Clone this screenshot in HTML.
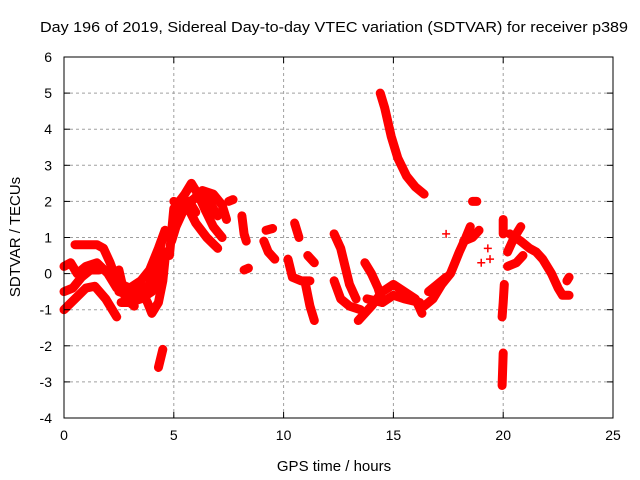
<!DOCTYPE html>
<html><head><meta charset="utf-8"><style>
body{margin:0;background:#fff;}
svg{display:block;font-family:"Liberation Sans",sans-serif;}
</style></head><body>
<svg id="chart" width="640" height="480" viewBox="0 0 640 480">
<rect width="640" height="480" fill="#fff"/>
<text x="334" y="32" font-size="15" text-anchor="middle" textLength="588" lengthAdjust="spacingAndGlyphs">Day 196 of 2019, Sidereal Day-to-day VTEC variation (SDTVAR) for receiver p389</text>
<text x="334" y="471" font-size="15" text-anchor="middle">GPS time / hours</text>
<text x="0" y="0" font-size="15" text-anchor="middle" transform="translate(20,237) rotate(-90)">SDTVAR / TECUs</text>
<g id="grid"></g><g id="marks"></g><g id="axes"></g>
</svg>
<script>
const xTicks=[0,5,10,15,20,25];
const yTicks=[-4,-3,-2,-1,0,1,2,3,4,5,6];
const trackA=[[0,-1.0],[0.5,-0.7],[1.0,-0.4],[1.4,-0.35],[1.9,-0.7],[2.4,-1.2]];
const trackB=[[0.5,0.8],[1.0,0.8],[1.5,0.8],[1.8,0.7],[2.1,0.3],[2.4,-0.2],[2.8,-0.6]];
const trackC=[[0,0.2],[0.3,0.3],[0.6,0.0],[1.0,0.2],[1.5,0.3],[2.0,0.0],[2.4,-0.4]];
const trackD=[[0,-0.5],[0.4,-0.4],[0.8,-0.1],[1.2,0.1],[1.6,0.1]];
const trackE=[[2.5,-0.5],[3.0,-0.6],[3.5,-0.5],[3.9,-0.3],[4.2,0.3],[4.5,1.0]];
const trackE2=[[2.6,-0.3],[3.0,-0.4],[3.5,-0.2],[3.9,0.1],[4.3,0.7],[4.6,1.2]];
const trackE3=[[2.6,-0.8],[3.0,-0.8],[3.5,-0.7],[4.0,-0.5],[4.4,0.0],[4.6,0.6]];
const trackF=[[2.5,0.1],[2.8,-0.7],[3.2,-0.9]];
const trackG=[[3.4,-0.3],[3.8,-0.8],[4.0,-1.1],[4.3,-0.8],[4.5,-0.2],[4.6,0.4]];
const trackH=[[4.3,-2.6],[4.5,-2.1]];
const trackI=[[4.8,0.5],[5.0,1.8],[5.5,2.2],[5.8,2.5],[6.1,2.2],[6.4,1.8],[6.8,1.3],[7.2,1.0]];
const trackI2=[[4.9,0.9],[5.1,1.3],[5.4,1.7],[5.7,2.0],[6.0,1.7]];
const trackJ=[[5.0,1.5],[5.5,2.0],[6.0,1.4],[6.5,1.0],[7.0,0.7]];
const trackK=[[5.2,1.9],[5.8,2.0],[6.3,2.3],[6.8,2.2],[7.2,1.9],[7.4,1.5]];
const trackK2=[[5.0,2.0],[5.5,1.9],[6.0,2.1],[6.6,2.0],[7.0,1.6]];
const trackL=[[7.5,2.0],[7.7,2.05]];
const trackM=[[8.1,1.6],[8.2,1.1],[8.3,0.9]];
const trackM2=[[8.2,0.1],[8.4,0.15]];
const trackN=[[9.2,1.2],[9.5,1.25]];
const trackO=[[9.1,0.9],[9.3,0.6],[9.6,0.4]];
const trackP=[[10.5,1.4],[10.7,1.0]];
const trackQ=[[10.2,0.4],[10.4,-0.1],[10.8,-0.2],[11.2,-0.2]];
const trackR=[[11.0,-0.3],[11.2,-0.9],[11.4,-1.3]];
const trackS=[[11.1,0.5],[11.4,0.3]];
const trackT=[[12.3,1.1],[12.6,0.7],[12.8,0.2],[13.0,-0.3],[13.3,-0.7]];
const trackU=[[12.3,-0.2],[12.6,-0.7],[13.0,-0.9],[13.5,-1.0]];
const trackV=[[13.7,0.3],[14.0,0.0],[14.3,-0.4],[14.5,-0.8]];
const trackW=[[13.4,-1.3],[14,-0.9],[14.5,-0.5],[15,-0.3],[15.5,-0.5],[16,-0.7],[16.3,-1.1]];
const trackX=[[13.8,-0.7],[14.5,-0.8],[15,-0.6],[15.5,-0.7],[16.2,-0.8]];
const trackY=[[16.4,-0.9],[16.8,-0.7],[17.2,-0.3],[17.6,0.0],[17.8,0.3],[18.0,0.6],[18.3,1.0],[18.5,1.3]];
const trackY2=[[16.6,-0.5],[17.0,-0.3],[17.4,-0.1]];
const trackZ=[[14.4,5.0],[14.6,4.6],[14.9,3.8],[15.2,3.2],[15.6,2.7],[16.0,2.4],[16.4,2.2]];
const trackAA=[[18.2,0.9],[18.6,1.0],[18.9,1.2]];
const trackAB=[[18.6,2.0],[18.8,2.0]];
const trackBB=[[20.0,1.5],[20.0,1.1]];
const trackBC=[[20.05,-0.3],[20.0,-0.8],[19.95,-1.2]];
const trackBD=[[20.0,-2.2],[19.95,-3.1]];
const trackCC=[[20.2,0.6],[20.5,1.0],[20.8,1.3]];
const trackDD=[[20.3,1.1],[20.8,0.9],[21.2,0.7],[21.5,0.6],[21.8,0.4],[22.2,0.0],[22.5,-0.4],[22.7,-0.6],[23.0,-0.6]];
const trackEE=[[20.2,0.2],[20.6,0.3],[20.9,0.5]];
const trackFF=[[22.9,-0.2],[23.0,-0.1]];
const singles=[[19.0,0.3],[19.3,0.7],[19.4,0.4],[17.4,1.1],[18.4,1.0]];
const tracks=[trackA,trackB,trackC,trackD,trackE,trackE2,trackE3,trackF,trackG,trackH,trackI,trackI2,trackJ,trackK,trackK2,trackL,trackM,trackM2,trackN,trackO,trackP,trackQ,trackR,trackS,trackT,trackU,trackV,trackW,trackX,trackY,trackY2,trackZ,trackAA,trackAB,trackBB,trackBC,trackBD,trackCC,trackDD,trackEE,trackFF];

const X0=64,X1=613,Y0=418,Y1=57;
const xs=t=>X0+(t-0)/25*(X1-X0);
const ys=v=>Y0-(v+4)/10*(Y0-Y1);
const NS="http://www.w3.org/2000/svg";
const grid=document.getElementById('grid'),marks=document.getElementById('marks'),axes=document.getElementById('axes');
function mk(tag,at,parent){const e=document.createElementNS(NS,tag);for(const k in at)e.setAttribute(k,at[k]);parent.appendChild(e);return e;}
xTicks.forEach(t=>{
  if(t>0&&t<25){const g=mk('line',{x1:xs(t),x2:xs(t),y1:Y0,y2:Y1,stroke:'#a0a0a0','stroke-dasharray':'3,3'},grid);
  
  }
  mk('line',{x1:xs(t),x2:xs(t),y1:Y0,y2:Y0-6,stroke:'#000'},axes);
  mk('line',{x1:xs(t),x2:xs(t),y1:Y1,y2:Y1+6,stroke:'#000'},axes);
  const l=mk('text',{x:xs(t),y:Y0+22,'font-size':14,'text-anchor':'middle'},axes);l.textContent=t;
  
  
});
yTicks.forEach(v=>{
  if(v>-4&&v<6){const g=mk('line',{x1:X0,x2:X1,y1:ys(v),y2:ys(v),stroke:'#a0a0a0','stroke-dasharray':'3,3'},grid);
  
  }
  mk('line',{x1:X0,x2:X0+6,y1:ys(v),y2:ys(v),stroke:'#000'},axes);
  mk('line',{x1:X1,x2:X1-6,y1:ys(v),y2:ys(v),stroke:'#000'},axes);
  const l=mk('text',{x:X0-12,y:ys(v)+5,'font-size':14,'text-anchor':'end'},axes);l.textContent=v;
  
  
});
const frame=mk('rect',{x:X0,y:Y1,width:X1-X0,height:Y0-Y1,fill:'none',stroke:'#000'},axes);


function plus(t,v){const x=xs(t),y=ys(v);
  const p=mk('path',{d:`M${x-4},${y}H${x+4}M${x},${y-4}V${y+4}`,stroke:'#f00','stroke-width':1.5},marks);
  
  }
tracks.forEach(tr=>{
  const pl=mk('polyline',{points:tr.map(p=>xs(p[0])+','+ys(p[1])).join(' '),fill:'none',stroke:'#f00','stroke-width':9,'stroke-linejoin':'round','stroke-linecap':'round'},marks);
  
  
  tr.forEach(p=>plus(p[0],p[1]));
});
singles.forEach(p=>plus(p[0],p[1]));
</script>
</body></html>
